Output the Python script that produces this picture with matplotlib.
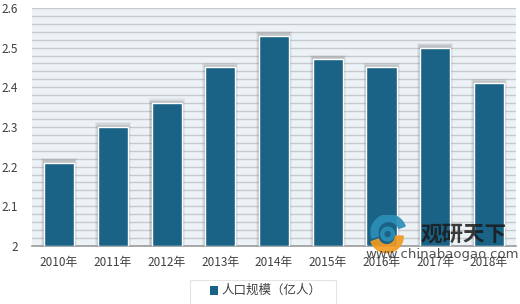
import matplotlib.pyplot as plt
from matplotlib.patches import Rectangle, Wedge
import numpy as np

plt.rcParams['font.family'] = ['Noto Sans CJK SC', 'DejaVu Sans']

# datos
anios = ['2010年', '2011年', '2012年', '2013年', '2014年', '2015年', '2016年', '2017年', '2018年']
poblacion = [2.21, 2.30, 2.36, 2.45, 2.53, 2.47, 2.45, 2.50, 2.41]
serie = '人口规模（亿人）'

color_barra = '#1b6386'
color_texto = '#404040'

fig = plt.figure(figsize=(5.2, 3.04), dpi=100)
ax = fig.add_axes([0.062, 0.191, 0.93, 0.783])
ax.set_facecolor('#edf2f7')

x = np.arange(len(anios))
ancho = 0.56

# sombra difusa detras de las barras
for k, a in enumerate([0.08, 0.10, 0.14]):
    d = 0.055 - k * 0.017
    ax.bar(x, np.array(poblacion) - 2 + 0.012 - k * 0.003, width=ancho + 2 * d, bottom=2,
           color='#555555', alpha=a, linewidth=0, zorder=2)

ax.bar(x, np.array(poblacion) - 2, width=ancho, bottom=2, color=color_barra,
       edgecolor='white', linewidth=1.0, zorder=3)

ax.set_xlim(-0.5, len(anios) - 0.5)
ax.set_ylim(2, 2.6)
ax.set_yticks([2, 2.1, 2.2, 2.3, 2.4, 2.5, 2.6])
ax.set_yticklabels(['2', '2.1', '2.2', '2.3', '2.4', '2.5', '2.6'])
ax.set_yticks(np.arange(2.0, 2.601, 0.02), minor=True)
ax.grid(True, axis='y', which='both', color='#c6cacd', linewidth=1.0, zorder=1)
ax.set_axisbelow(True)
ax.set_xticks(x)
ax.set_xticklabels(anios)

ax.tick_params(axis='both', which='both', length=0, labelsize=8.5, colors=color_texto)
ax.tick_params(axis='x', pad=7)
ax.tick_params(axis='y', pad=10)
for s in ['top', 'right', 'left']:
    ax.spines[s].set_visible(False)
ax.spines['bottom'].set_color('#9a9a9a')
ax.spines['bottom'].set_linewidth(1.2)

# leyenda
fig.patches.append(Rectangle((0.366, -0.02), 0.28, 0.1, transform=fig.transFigure,
                             facecolor='white', edgecolor='#e4e4e4', linewidth=0.8, zorder=5))
fig.patches.append(Rectangle((0.404, 0.0305), 0.016, 0.03, transform=fig.transFigure,
                             facecolor=color_barra, edgecolor='none', zorder=6))
fig.text(0.425, 0.045, serie, fontsize=9, color=color_texto, va='center', ha='left', zorder=7)

# marca de agua
logo = fig.add_axes([0.708, 0.165, 0.075, 0.13])
logo.set_xlim(-1, 1)
logo.set_ylim(-1, 1)
logo.set_aspect('equal')
logo.axis('off')
logo.add_patch(Wedge((0.05, 0.1), 0.9, 20, 200, width=0.35, color='#2b8fb8', alpha=0.9))
logo.add_patch(Wedge((-0.05, -0.1), 0.85, 200, 360, width=0.4, color='#f29a1f', alpha=0.9))
logo.add_patch(Wedge((0.0, 0.0), 0.35, 0, 360, width=0.15, color='#2b8fb8', alpha=0.9))

fig.text(0.891, 0.23, '观研天下', fontsize=15.5, fontweight='bold', color='#1a1a1a',
         ha='center', va='center', alpha=0.85, zorder=8)
fig.text(0.85, 0.162, 'www.chinabaogao.com', fontsize=9.5, color='#333333',
         family='DejaVu Sans', ha='center', va='center', alpha=0.85, zorder=8)

fig.savefig('out.png', dpi=100)
